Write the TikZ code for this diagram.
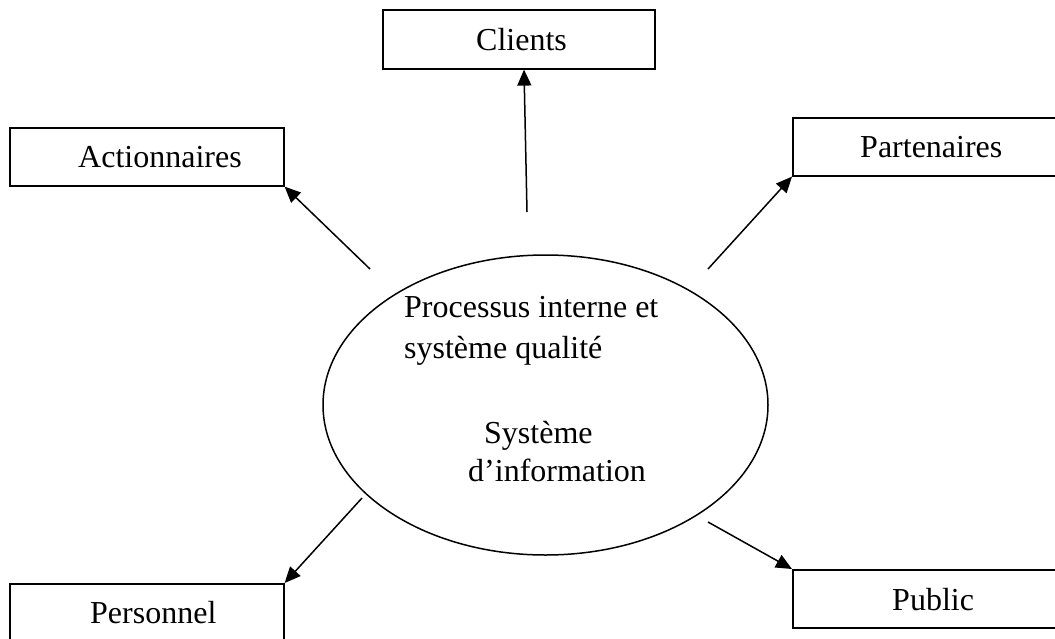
\documentclass[tikz,border=0pt]{standalone}
\usepackage{fontspec}
\setmainfont{Liberation Serif}
\usetikzlibrary{arrows.meta,shapes.geometric}
\begin{document}
\begin{tikzpicture}[x=1pt,y=-1pt,
  box/.style={draw,line width=1.6pt,rectangle,inner sep=0pt,anchor=north west},
  lab/.style={anchor=base west,inner sep=0pt,font=\fontsize{32}{38}\selectfont},
  arr/.style={line width=1.5pt,-{Triangle[length=16pt,width=14pt]}}]
\useasboundingbox (0,0) rectangle (1055,638);
% boxes
\node[box,minimum width=272pt,minimum height=59pt] (cli) at (382,9) {};
\node[box,minimum width=274pt,minimum height=58pt] (act) at (9,127) {};
\node[box,minimum width=270pt,minimum height=58pt] (par) at (792,117) {};
\node[box,minimum width=274pt,minimum height=60pt] (per) at (9,583) {};
\node[box,minimum width=270pt,minimum height=58pt] (pub) at (792,569) {};
% labels
\node[lab] (tcli) at (476,50) {Clients};
\node[lab] (tact) at (78,167) {Actionnaires};
\node[lab] (tpar) at (860,157) {Partenaires};
\node[lab] (tper) at (90,623) {Personnel};
\node[lab] (tpub) at (892,610) {Public};
% ellipse
\node[draw,ellipse,line width=1.5pt,minimum width=445pt,minimum height=300pt,inner sep=0pt] (ell) at (545.5,405) {};
\node[lab] (t1) at (404,317) {Processus interne et};
\node[lab] (t2) at (404,358) {système qualité};
\node[lab] (t3) at (484,443) {Système};
\node[lab] (t4) at (468,481) {d’information};
% arrow starts
\coordinate (scli) at (527,212);
\coordinate (sact) at (370,269);
\coordinate (spar) at (708,269);
\coordinate (sper) at (362,498);
\coordinate (spub) at (708,522);
\draw[arr] (scli) -- (cli.south -| 524,0);
\draw[arr] (sact) -- (act.south east);
\draw[arr] (spar) -- (par.south west);
\draw[arr] (sper) -- (per.north east);
\draw[arr] (spub) -- (pub.north west);
\end{tikzpicture}
\end{document}
